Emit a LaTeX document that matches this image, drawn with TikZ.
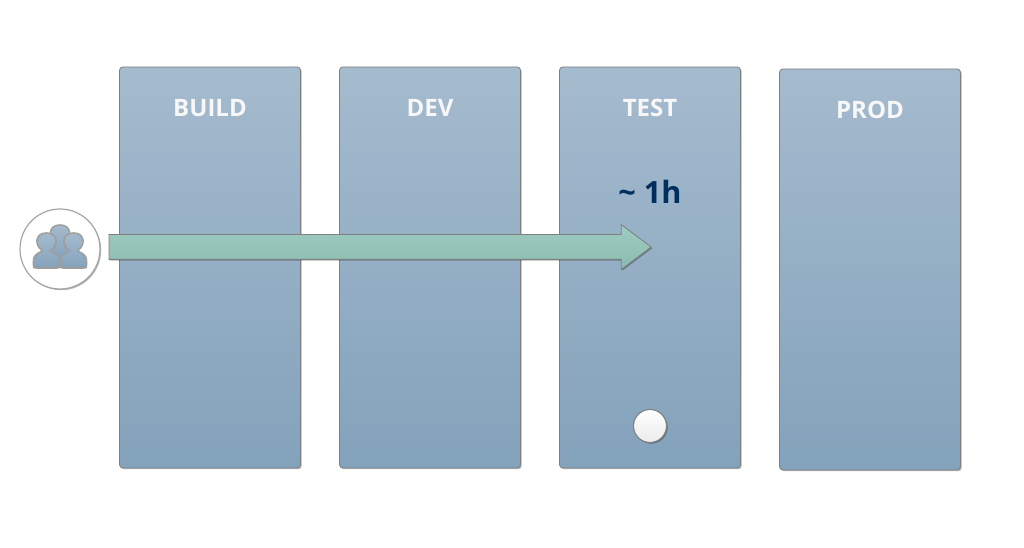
\documentclass[tikz,border=0pt]{standalone}
\usepackage{fontspec}
\setmainfont{Open Sans}
\usetikzlibrary{positioning,shapes.arrows,shadows}

\tikzset{
softshadow/.style = {drop shadow={shadow xshift=0.9pt, shadow yshift=-0.9pt, opacity=0.3, fill=black}},
stage/.style = {rectangle, rounded corners=2.5pt, draw=black!50, line width=0.6pt, outer sep=0pt,
  top color=stagetop, bottom color=stagebottom, minimum width=135.75pt, minimum height=300.75pt, softshadow},
stagetitle/.style = {text=titlewhite, font=\fontsize{18}{20}\bfseries, inner sep=0pt},
flow/.style = {single arrow, draw=black!50, line width=0.6pt, top color=flowtop, bottom color=flowbottom,
  inner xsep=0pt, inner ysep=9pt, outer sep=0pt, minimum height=406.5pt, single arrow head extend=7.5pt,
  single arrow tip angle=74, softshadow},
person/.style = {draw=black!38, line width=1.2pt, top color=stagetop, bottom color=stagebottom, line join=round},
}
\definecolor{stagetop}{HTML}{A5BBCE}
\definecolor{stagebottom}{HTML}{83A2BB}
\definecolor{flowtop}{HTML}{A0CBC1}
\definecolor{flowbottom}{HTML}{8ABCB0}
\definecolor{titlewhite}{HTML}{F7F7F7}
\definecolor{timeblue}{HTML}{002F5F}

\begin{document}
\begin{tikzpicture}[x=0.75pt, y=-0.75pt]
\useasboundingbox (0,0) rectangle (1024,548);

\node [stage, anchor=north west] (build) at (119.5,67) {};
\node [stage, right=29.25pt of build] (dev) {};
\node [stage, right=29.25pt of dev] (test) {};
\node [stage, right=29.25pt of test, yshift=-1.5pt] (prod) {};

\node [stagetitle, yshift=-30.75pt] (buildtitle) at (build.north) {BUILD};
\node [stagetitle, yshift=-30.75pt] (devtitle) at (dev.north) {DEV};
\node [stagetitle, yshift=-30.75pt] (testtitle) at (test.north) {TEST};
\node [stagetitle, yshift=-30.75pt] (prodtitle) at (prod.north) {PROD};
\node [text=timeblue, font=\fontsize{23}{25}\bfseries, inner sep=0pt, yshift=-93.75pt] (time) at (test.north) {\textasciitilde\ 1h};

% users
\node [circle, draw=black!35, line width=0.9pt, fill=white, minimum size=60pt, inner sep=0pt, softshadow] (users) at (60,249) {};
\foreach \x/\y in {60/235, 46.5/243, 73.5/243} {
  \draw [person] (\x-4,\y+7.5) .. controls (\x-12,\y+3) and (\x-12,\y-10) .. (\x,\y-10)
    .. controls (\x+12,\y-10) and (\x+12,\y+3) .. (\x+4,\y+7.5)
    .. controls (\x+6,\y+10) and (\x+13,\y+10) .. (\x+13,\y+18) -- (\x+13,\y+22)
    .. controls (\x+13,\y+25) .. (\x+10,\y+25) -- (\x-10,\y+25)
    .. controls (\x-13,\y+25) .. (\x-13,\y+22) -- (\x-13,\y+18)
    .. controls (\x-13,\y+10) and (\x-6,\y+10) .. cycle;
}

\node [flow, anchor=west] (flow) at (109,247) {};

\node [circle, draw=black!50, line width=0.8pt, top color=white, bottom color=black!8, minimum size=24.75pt, inner sep=0pt, softshadow] (marker) at (650,426) {};
\end{tikzpicture}
\end{document}
